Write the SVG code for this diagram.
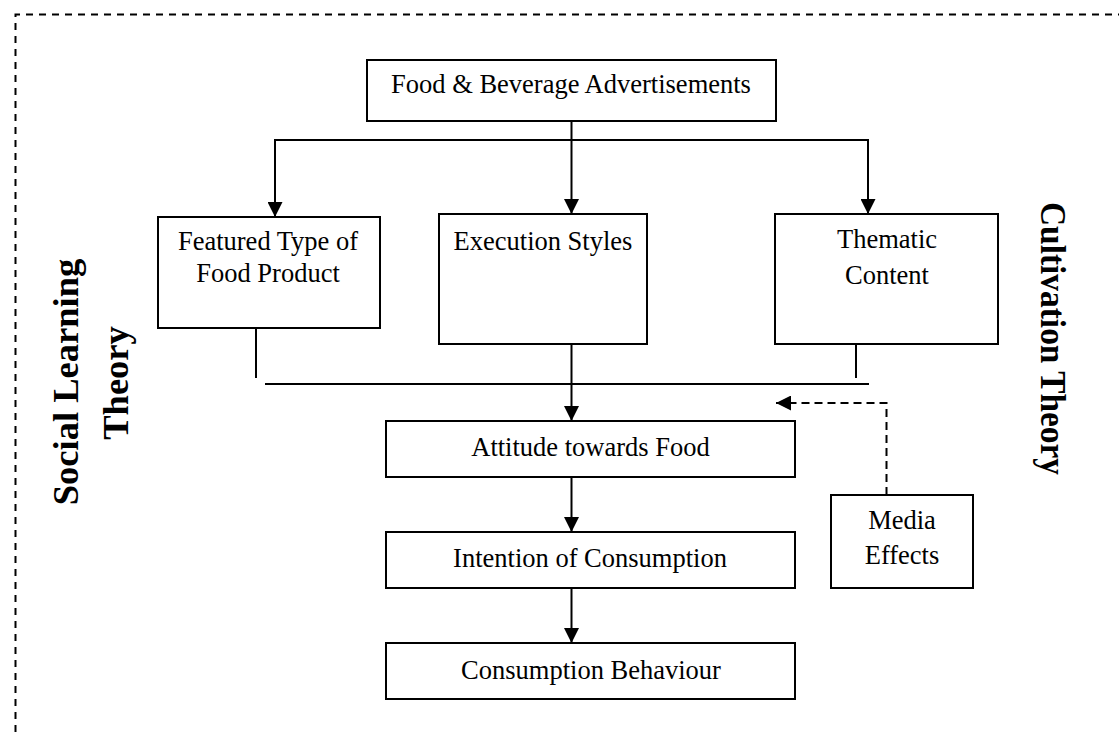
<svg xmlns="http://www.w3.org/2000/svg" width="1119" height="732" viewBox="0 0 1119 732">
<style>
.box{fill:#fff;stroke:#000;stroke-width:2}
.t{font-family:"Liberation Serif","Times New Roman",serif;font-size:26.5px;fill:#000;text-anchor:middle}
.b{font-family:"Liberation Serif","Times New Roman",serif;font-size:36.5px;font-weight:bold;fill:#000;text-anchor:middle}
.ln{fill:none;stroke:#000;stroke-width:2}
.dash{fill:none;stroke:#000;stroke-width:2;stroke-dasharray:8 5}
</style>
<defs>
<marker id="ah" markerUnits="userSpaceOnUse" markerWidth="15" markerHeight="15" refX="15" refY="7.5" orient="auto">
<path d="M0,0 L15,7.5 L0,15 z" fill="#000"/>
</marker>
</defs>
<rect width="1119" height="732" fill="#fff"/>
<path id="border" d="M15.5,732 L15.5,14.5 L1119,14.5" fill="none" stroke="#000" stroke-width="2" stroke-dasharray="7 6"/>
<g id="connectors">
<line class="ln" x1="571.5" y1="121" x2="571.5" y2="214" marker-end="url(#ah)"/>
<line class="ln" x1="274" y1="140" x2="869" y2="140"/>
<line class="ln" x1="275" y1="140" x2="275" y2="217" marker-end="url(#ah)"/>
<line class="ln" x1="868" y1="140" x2="868" y2="214" marker-end="url(#ah)"/>
<line class="ln" x1="256" y1="328" x2="256" y2="378"/>
<line class="ln" x1="856" y1="344" x2="856" y2="378"/>
<line class="ln" x1="265" y1="384" x2="869" y2="384"/>
<line class="ln" x1="571.5" y1="344" x2="571.5" y2="421" marker-end="url(#ah)"/>
<line class="ln" x1="571.5" y1="477" x2="571.5" y2="532" marker-end="url(#ah)"/>
<line class="ln" x1="571.5" y1="588" x2="571.5" y2="643" marker-end="url(#ah)"/>
<path class="dash" d="M886.5,495 L886.5,403 L776,403" marker-end="url(#ah)"/>
</g>
<g id="n-ads">
<rect class="box" x="367" y="60" width="409" height="61"/>
<text class="t" x="571" y="93">Food &amp; Beverage Advertisements</text>
</g>
<g id="n-featured">
<rect class="box" x="158" y="217" width="222" height="111"/>
<text class="t" x="268" y="250">Featured Type of</text>
<text class="t" x="268" y="282">Food Product</text>
</g>
<g id="n-execution">
<rect class="box" x="439" y="214" width="208" height="130"/>
<text class="t" x="543" y="250">Execution Styles</text>
</g>
<g id="n-thematic">
<rect class="box" x="775" y="214" width="223" height="130"/>
<text class="t" x="887" y="248">Thematic</text>
<text class="t" x="887" y="284">Content</text>
</g>
<g id="n-attitude">
<rect class="box" x="386" y="421" width="409" height="56"/>
<text class="t" x="590.5" y="456">Attitude towards Food</text>
</g>
<g id="n-intention">
<rect class="box" x="386" y="532" width="409" height="56"/>
<text class="t" x="590" y="567">Intention of Consumption</text>
</g>
<g id="n-behaviour">
<rect class="box" x="386" y="643" width="409" height="56"/>
<text class="t" x="591" y="679">Consumption Behaviour</text>
</g>
<g id="n-media">
<rect class="box" x="831" y="495" width="142" height="93"/>
<text class="t" x="902" y="529">Media</text>
<text class="t" x="902" y="564">Effects</text>
</g>
<g id="n-social">
<text class="b" transform="translate(78,382) rotate(-90)">Social Learning</text>
<text class="b" transform="translate(128,383) rotate(-90)">Theory</text>
</g>
<g id="n-cultivation">
<text class="b" transform="translate(1041,338.5) rotate(90)" textLength="273" lengthAdjust="spacingAndGlyphs">Cultivation Theory</text>
</g>
</svg>
